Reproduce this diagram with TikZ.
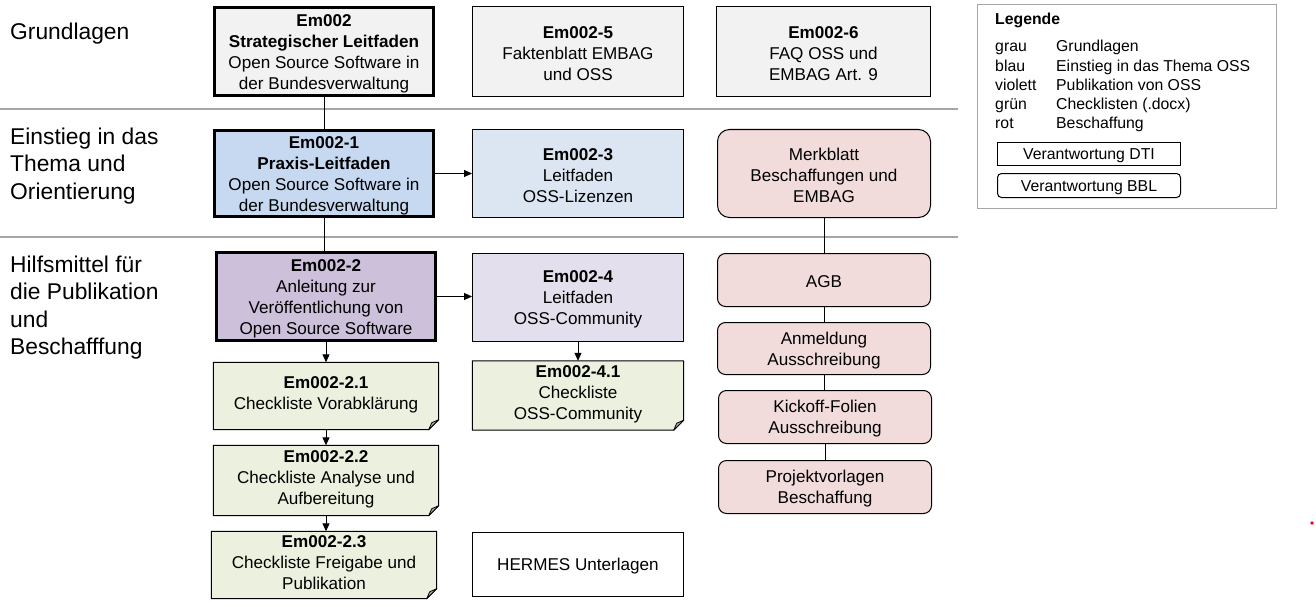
\documentclass[tikz,border=0pt]{standalone}
\usepackage{fontspec}
\setmainfont{Liberation Sans}
\usetikzlibrary{arrows.meta}
\pgfdeclarelayer{background}
\pgfdeclarelayer{canvas}
\pgfsetlayers{canvas,background,main}
\definecolor{cgray}{HTML}{F2F2F2}
\definecolor{cblue}{HTML}{C6D9F1}
\definecolor{cbluel}{HTML}{DCE6F2}
\definecolor{cviolet}{HTML}{CCC0DA}
\definecolor{cvioletl}{HTML}{E4DFEC}
\definecolor{cgreen}{HTML}{EBF1DE}
\definecolor{cred}{HTML}{F2DCDB}
\definecolor{sepgray}{HTML}{A6A6A6}
\definecolor{foldgray}{HTML}{A6A6A6}
\newcommand\firststrut{\rule{0pt}{16pt}}
\begin{document}
\begin{tikzpicture}[x=1pt,y=-1pt,
 every node/.style={inner sep=0pt},
 bx/.style={draw=black, line width=1pt, align=center, font=\fontsize{17.1}{21}\selectfont,
   execute at begin node={\rule{0pt}{16pt}}},
 mainbox/.style={bx, line width=3pt},
 rbox/.style={bx, fill=cred, rounded corners=8pt},
 notebox/.style={align=center, font=\fontsize{17.1}{21}\selectfont},
 notebody/.style={fill=cgreen, draw=black, line width=1pt, line join=round},
 foldpart/.style={fill=foldgray, draw=black, line width=0.8pt, line join=round},
 legbox/.style={draw=black, line width=1pt, fill=white, minimum width=183,
   font=\fontsize{15.8}{19.3}\selectfont, execute at begin node={\rule{0pt}{14.5pt}}},
 conn/.style={draw=black, line width=1pt},
 arr/.style={conn, -{Triangle[length=8pt,width=7pt]}},
 sepline/.style={draw=sepgray, line width=1.5pt},
 rowlabel/.style={anchor=west, align=left, font=\fontsize{22.8}{27.5}\selectfont},
]
\useasboundingbox (0,0) rectangle (1316,607);
\begin{pgfonlayer}{canvas}
\fill[white] (0,0) rectangle (1316,607);
\end{pgfonlayer}

% separators
\draw[sepline] (0,109) -- (958,109);
\draw[sepline] (0,237) -- (958,237);

% row labels
\node[rowlabel] (r1) at (10,34) {Grundlagen};
\node[rowlabel] (r2) at (10,166) {Einstieg in das\\Thema und\\Orientierung};
\node[rowlabel] (r3) at (10,307.5) {Hilfsmittel für\\die Publikation\\und\\Beschafffung};

% row 1
\node[mainbox, fill=cgray, minimum width=219, minimum height=88] (e0) at (324,51.5)
 {\firststrut\textbf{Em002}\\\textbf{Strategischer Leitfaden}\\Open Source Software in\\der Bundesverwaltung};
\node[bx, fill=cgray, minimum width=211, minimum height=90] (e5) at (578,51.5)
 {\firststrut\textbf{Em002-5}\\Faktenblatt EMBAG\\und OSS};
\node[bx, fill=cgray, minimum width=214, minimum height=90] (e6) at (823.5,51.5)
 {\firststrut\textbf{Em002-6}\\FAQ OSS und\\EMBAG Art. 9};

% row 2
\node[mainbox, fill=cblue, minimum width=219, minimum height=86] (e1) at (324,173.5)
 {\firststrut\textbf{Em002-1}\\\textbf{Praxis-Leitfaden}\\Open Source Software in\\der Bundesverwaltung};
\node[bx, fill=cbluel, minimum width=211, minimum height=88] (e3) at (578,173.5)
 {\firststrut\textbf{Em002-3}\\Leitfaden\\OSS-Lizenzen};
\node[rbox, rounded corners=12pt, minimum width=213, minimum height=88] (mb) at (824,173.5)
 {\firststrut Merkblatt\\Beschaffungen und\\EMBAG};

% row 3
\node[mainbox, fill=cviolet, minimum width=219, minimum height=88] (e2) at (326,296.5)
 {\firststrut\textbf{Em002-2}\\Anleitung zur\\Veröffentlichung von\\Open Source Software};
\node[bx, fill=cvioletl, minimum width=211, minimum height=88] (e4) at (578,297.5)
 {\firststrut\textbf{Em002-4}\\Leitfaden\\OSS-Community};
\node[rbox, minimum width=213, minimum height=53] (agb) at (824,280) {AGB};
\node[rbox, minimum width=213, minimum height=52] (anm) at (824,348.5) {\firststrut Anmeldung\\Ausschreibung};
\node[rbox, minimum width=213, minimum height=53] (kick) at (825,417) {\firststrut Kickoff-Folien\\Ausschreibung};
\node[rbox, minimum width=213, minimum height=53] (proj) at (825,487) {\firststrut Projektvorlagen\\Beschaffung};

% notes
\node[notebox, minimum width=225, minimum height=67] (n21) at (326,396)
 {\firststrut\textbf{Em002-2.1}\\Checkliste Vorabklärung\rule[-11pt]{0pt}{0pt}};
\node[notebox, minimum width=225, minimum height=70] (n22) at (326,480.5)
 {\firststrut\textbf{Em002-2.2}\\Checkliste Analyse und\\Aufbereitung\rule[-11pt]{0pt}{0pt}};
\node[notebox, minimum width=225, minimum height=65] (n23) at (324,565)
 {\firststrut\textbf{Em002-2.3}\\Checkliste Freigabe und\\Publikation\rule[-9pt]{0pt}{0pt}};
\node[notebox, minimum width=211, minimum height=68] (n41) at (578,395.5)
 {\firststrut\textbf{Em002-4.1}\\Checkliste\\OSS-Community\rule[-11pt]{0pt}{0pt}};
\node[bx, fill=white, minimum width=211, minimum height=64] (her) at (578,564.5) {HERMES Unterlagen};

\begin{pgfonlayer}{background}
\foreach \n in {n21,n22,n23,n41} {
  \draw[notebody] (\n.north west) -- (\n.north east) -- ([yshift=10pt]\n.south east)
     -- ([xshift=-10pt]\n.south east) -- (\n.south west) -- cycle;
  \draw[foldpart] ([yshift=10pt]\n.south east) -- ([xshift=-10pt]\n.south east)
     -- ([shift={(-7pt,7pt)}]\n.south east) -- cycle;
}
\end{pgfonlayer}

% connectors
\draw[conn] (e0.south) -- (e1.north);
\draw[conn] (e1.south) -- (e1.south |- e2.north);
\draw[arr] (e1.east) -- (e1.east -| e3.west);
\draw[arr] (e2.east) -- (e2.east -| e4.west);
\draw[arr] (e2.south) -- (e2.south |- n21.north);
\draw[arr] (n21.south) -- (n21.south |- n22.north);
\draw[arr] (n22.south) -- (n22.south |- n23.north);
\draw[arr] (e4.south) -- (e4.south |- n41.north);
\draw[conn] (mb.south) -- (mb.south |- agb.north);
\draw[conn] (agb.south) -- (agb.south |- anm.north);
\draw[conn] (anm.south) -- (anm.south |- kick.north);
\draw[conn] (kick.south) -- (kick.south |- proj.north);

% legend
\node[draw=sepgray, line width=1pt, minimum width=299, minimum height=204] (legend) at (1127,106.5) {};
\node[anchor=north west, font=\fontsize{15.8}{19.3}\selectfont] (legtext) at (995,11)
 {\begin{tabular}{@{}p{61pt}@{}l@{}}
  \multicolumn{2}{@{}l@{}}{\textbf{Legende}}\\[7.7pt]
  grau & Grundlagen\\
  blau & Einstieg in das Thema OSS\\
  violett & Publikation von OSS\\
  grün & Checklisten (.docx)\\
  rot & Beschaffung
 \end{tabular}};
\node[legbox, minimum height=23] (dti) at (1089,154) {Verantwortung DTI};
\node[legbox, rounded corners=4pt, minimum height=24] (bbl) at (1089,185.5) {Verantwortung BBL};

% red dot
\fill[red] (1312,523) circle (1.8);
\end{tikzpicture}
\end{document}
